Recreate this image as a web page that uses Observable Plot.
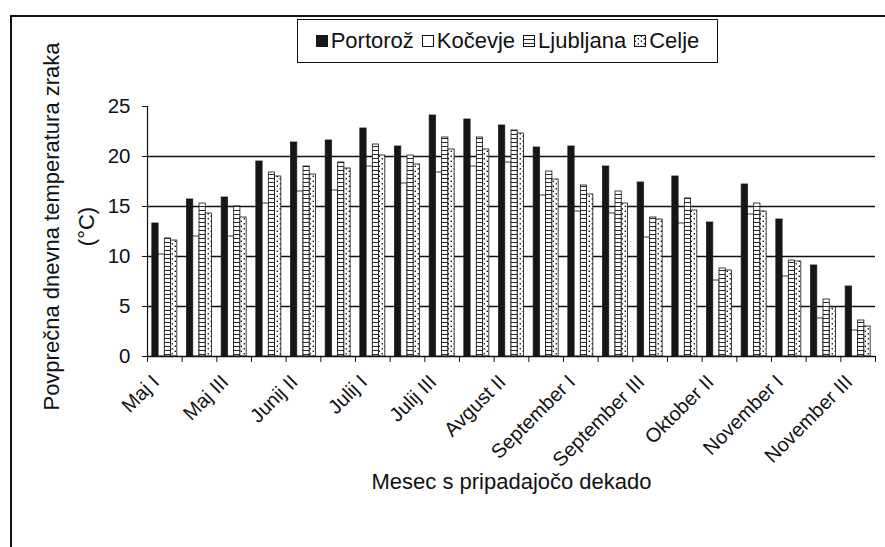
<!DOCTYPE html>
<html>
<head>
<meta charset="utf-8">
<script src="https://cdn.jsdelivr.net/npm/d3@7"></script>
<script src="https://cdn.jsdelivr.net/npm/@observablehq/plot@0.6"></script>
<style>
  body { margin: 0; background: #fff; font-family: "Liberation Sans", Arial, sans-serif; color: #111; }
  #wrap { position: relative; width: 885px; height: 547px; overflow: hidden; background: #fff; }
  #border { position: absolute; left: 10px; top: 15px; width: 900px; height: 600px;
            border-left: 2px solid #111; border-top: 2px solid #111; pointer-events: none; }
  #legendRow { position: relative; height: 70px; }
  #legend { position: absolute; left: 297px; top: 19px; width: 421px; height: 44px;
            border: 1.5px solid #111; box-sizing: border-box; display: flex; align-items: center;
            justify-content: center; font-size: 22px; color: #111; }
  .item { display: flex; align-items: center; margin: 0 4px; }
  .item svg { margin-right: 3px; }
  #chart svg { display: block; }
</style>
</head>
<body>
<div id="wrap">
  <div id="legendRow"><div id="legend"></div></div>
  <div id="chart"></div>
  <div id="border"></div>
</div>
<script>
// ---- data ----
const decades = ["Maj I","Maj II","Maj III","Junij I","Junij II","Junij III","Julij I","Julij II","Julij III",
  "Avgust I","Avgust II","Avgust III","September I","September II","September III",
  "Oktober I","Oktober II","Oktober III","November I","November II","November III"];
const seriesNames = ["Portorož","Kočevje","Ljubljana","Celje"];
const portoroz  = [13.3,15.7,15.9,19.5,21.4,21.6,22.8,21.0,24.1,23.7,23.1,20.9,21.0,19.0,17.4,18.0,13.4,17.2,13.7,9.1,7.0];
const kocevje   = [10.2,12.0,12.0,15.3,16.5,16.6,19.0,17.3,18.4,19.0,19.4,16.1,14.5,14.3,11.9,13.3,7.6,14.2,8.0,3.8,2.6];
const ljubljana = [11.8,15.3,15.0,18.4,19.0,19.4,21.2,20.1,21.9,21.9,22.6,18.5,17.1,16.5,13.9,15.8,8.8,15.3,9.6,5.7,3.6];
const celje     = [11.6,14.3,13.9,18.0,18.2,18.8,20.1,19.2,20.7,20.7,22.3,17.7,16.2,15.3,13.7,14.6,8.6,14.5,9.5,4.9,3.0];
const yTicks = [0,5,10,15,20,25];
const gridValues = [5,10,15,20];
const yTitle = "Povprečna dnevna temperatura zraka\n(°C)";
const xTitle = "Mesec s pripadajočo dekado";

// ---- styles ----
const seriesValues = [portoroz, kocevje, ljubljana, celje];
const fills = ["#161616", "#ffffff", "url(#pLj)", "url(#pCe)"];
const strokes = ["#161616", "#111", "#111", "#111"];
const groupPad = 0.14, barW = 0.18;

const rows = decades.map((d, i) => ({decade: d, i}));

const barMarks = seriesValues.map((vals, s) =>
  Plot.rectY(rows, {
    x1: d => d.i + groupPad + s * barW,
    x2: d => d.i + groupPad + (s + 1) * barW,
    y1: 0,
    y2: d => vals[d.i],
    fill: fills[s],
    stroke: strokes[s],
    strokeWidth: 0.8
  })
);

const chart = Plot.plot({
  width: 885,
  height: 477,
  marginLeft: 147,
  marginRight: 10,
  marginTop: 36,
  marginBottom: 191,
  style: {fontFamily: "'Liberation Sans', Arial, sans-serif", color: "#111", background: "transparent", overflow: "visible"},
  x: {type: "linear", domain: [0, decades.length], axis: null},
  y: {domain: [0, 25], axis: null},
  marks: [
    Plot.ruleY(gridValues, {stroke: "#111", strokeWidth: 1.6}),
    ...barMarks,
    Plot.ruleY([0], {stroke: "#111", strokeWidth: 1.6}),
    Plot.ruleX([0], {stroke: "#111", strokeWidth: 1.2}),
    Plot.axisY({ticks: yTicks, tickSize: 5, tickPadding: 12, fontSize: 20.5, tickFormat: d => d}),
    Plot.axisX({ticks: d3.range(decades.length + 1), tickSize: 6, tickFormat: () => ""}),
    Plot.axisX({
      ticks: d3.range(0, decades.length, 2).map(i => i + 0.5),
      tickFormat: v => decades[Math.floor(v)],
      tickSize: 0, tickRotate: -45, tickPadding: 8, fontSize: 20, dx: -9, dy: 14
    }),
    Plot.text([yTitle], {text: d => d, frameAnchor: "left", rotate: -90, dx: -82, dy: -5,
      fontSize: 22, lineHeight: 1.6, textAnchor: "middle", lineAnchor: "middle"}),
    Plot.text([xTitle], {text: d => d, frameAnchor: "bottom", dy: 125, fontSize: 22, lineAnchor: "middle"})
  ]
});

// patterns
const defs = d3.select(chart).insert("defs", ":first-child");
const pLj = defs.append("pattern").attr("id", "pLj").attr("patternUnits", "userSpaceOnUse")
  .attr("width", 6).attr("height", 4);
pLj.append("rect").attr("width", 6).attr("height", 4).attr("fill", "#fff");
pLj.append("line").attr("x1", 0).attr("x2", 6).attr("y1", 0.5).attr("y2", 0.5).attr("stroke", "#111").attr("stroke-width", 0.9);
const pCe = defs.append("pattern").attr("id", "pCe").attr("patternUnits", "userSpaceOnUse")
  .attr("width", 6).attr("height", 5);
pCe.append("rect").attr("width", 6).attr("height", 5).attr("fill", "#fff");
pCe.append("rect").attr("x", 0.6).attr("y", 0.6).attr("width", 1.4).attr("height", 1.4).attr("fill", "#111");
pCe.append("rect").attr("x", 3.6).attr("y", 3.1).attr("width", 1.4).attr("height", 1.4).attr("fill", "#111");

document.getElementById("chart").appendChild(chart);

// legend
const legend = d3.select("#legend");
seriesNames.forEach((name, s) => {
  const item = legend.append("span").attr("class", "item");
  const sw = item.append("svg").attr("width", 12).attr("height", 12);
  sw.append("rect").attr("x", 0.5).attr("y", 0.5).attr("width", 11).attr("height", 11)
    .attr("fill", fills[s]).attr("stroke", strokes[s]).attr("stroke-width", 1);
  item.append("span").text(name);
});
</script>
</body>
</html>
